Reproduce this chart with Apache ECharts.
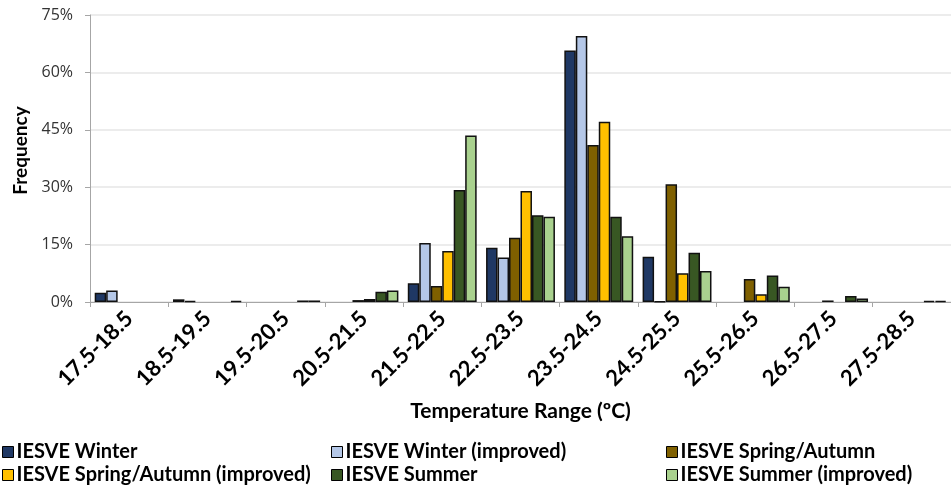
<!DOCTYPE html>
<html><head><meta charset="utf-8">
<script src="https://cdn.jsdelivr.net/npm/echarts@6/dist/echarts.min.js"></script>
<style>html,body{margin:0;padding:0;background:#fff}#c{width:951px;height:488px}</style>
</head><body><div id="c"></div><script>
const categories = ['17.5-18.5','18.5-19.5','19.5-20.5','20.5-21.5','21.5-22.5','22.5-23.5','23.5-24.5','24.5-25.5','25.5-26.5','26.5-27.5','27.5-28.5'];
const yTicks = [0, 15, 30, 45, 60, 75];
const winter = [2.4, 0.7, 0, 0, 4.9, 14.2, 65.7, 11.8, 0, 0, 0];
const winterImproved = [3.0, 0.3, 0, 0, 15.4, 11.6, 69.5, 0.1, 0, 0, 0];
const springAutumn = [0, 0, 0, 0.5, 4.2, 16.8, 41.0, 30.8, 6.0, 0.4, 0];
const springAutumnImproved = [0, 0, 0, 0.8, 13.3, 29.0, 47.1, 7.5, 2.0, 0, 0];
const summer = [0, 0, 0.4, 2.7, 29.3, 22.7, 22.3, 12.9, 6.9, 1.6, 0.3];
const summerImproved = [0, 0.3, 0.4, 3.0, 43.5, 22.3, 17.2, 8.1, 4.0, 0.9, 0.3];

const seriesDefs = [
  ['IESVE Winter', winter, '#1f3864'],
  ['IESVE Winter (improved)', winterImproved, '#b4c7e7'],
  ['IESVE Spring/Autumn', springAutumn, '#7f6000'],
  ['IESVE Spring/Autumn (improved)', springAutumnImproved, '#ffc000'],
  ['IESVE Summer', summer, '#385723'],
  ['IESVE Summer (improved)', summerImproved, '#a9d18e']
];
const FONT = 'Lato';
const chart = echarts.init(document.getElementById('c'), null, {renderer: 'canvas'});
const legendText = {fontFamily: FONT, fontWeight: 'bold', fontSize: 20, color: '#000', padding: [0, 0, 0, -2]};
function legendCol(left, names) {
  return {
    orient: 'vertical', left: left, top: 442, itemWidth: 11, itemHeight: 11, itemGap: 3,
    icon: 'rect', data: names, textStyle: legendText, padding: 0,
    itemStyle: {borderColor: '#000', borderWidth: 1}
  };
}
chart.setOption({
  animation: false,
  grid: {left: 90, right: -9, top: 15, bottom: 186, containLabel: false},
  legend: [
    legendCol(2, ['IESVE Winter', 'IESVE Spring/Autumn (improved)']),
    legendCol(331, ['IESVE Winter (improved)', 'IESVE Summer']),
    legendCol(666, ['IESVE Spring/Autumn', 'IESVE Summer (improved)'])
  ],
  xAxis: {
    type: 'category', data: categories,
    name: 'Temperature Range (ºC)', nameLocation: 'middle', nameGap: 99,
    nameTextStyle: {fontFamily: FONT, fontWeight: 'bold', fontSize: 21, color: '#000'},
    axisLine: {lineStyle: {color: '#a6a6a6', width: 1}},
    axisTick: {show: true, length: 5, interval: 0, lineStyle: {color: '#a6a6a6'}},
    axisLabel: {rotate: 45, interval: 0, fontFamily: FONT, fontWeight: 'bold', fontSize: 22, color: '#000', margin: 13}
  },
  yAxis: {
    type: 'value', min: yTicks[0], max: yTicks[yTicks.length - 1], interval: 15,
    name: 'Frequency', nameLocation: 'middle', nameGap: 59, nameRotate: 90,
    nameTextStyle: {fontFamily: FONT, fontWeight: 'bold', fontSize: 19, color: '#000', padding: [0, 0, 0, 16]},
    axisLine: {show: true, lineStyle: {color: '#a6a6a6', width: 1}},
    axisTick: {show: true, length: 5, lineStyle: {color: '#a6a6a6'}},
    splitLine: {lineStyle: {color: '#e6e6e6', width: 1.5}},
    axisLabel: {formatter: '{value}%', fontFamily: 'Open Sans', fontSize: 16, color: '#333', margin: 17}
  },
  series: seriesDefs.map(([name, data, color]) => ({
    name: name, type: 'bar', data: data.map(v => (v === 0 ? '-' : v)),
    barCategoryGap: '12%', barGap: '0%',
    itemStyle: {color: color, borderColor: '#111', borderWidth: 1.5}
  }))
});
</script></body></html>
